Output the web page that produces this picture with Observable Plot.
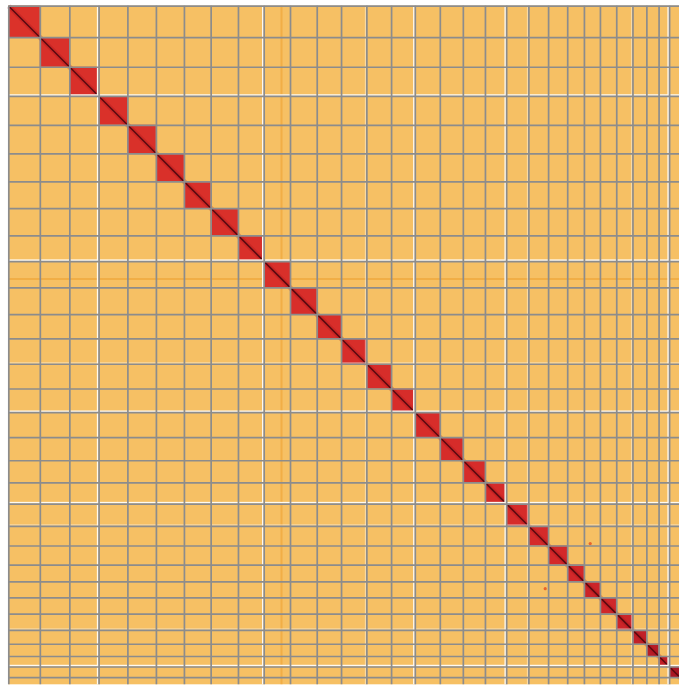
<!DOCTYPE html>
<html>
<head>
<meta charset="utf-8">
<script src="https://cdn.jsdelivr.net/npm/d3@7"></script>
<script src="https://cdn.jsdelivr.net/npm/@observablehq/plot@0.6"></script>
<style>
  html, body { margin: 0; padding: 0; background: #fff; overflow: hidden; }
  svg { overflow: hidden; display: block; }
</style>
</head>
<body>
<div id="chart"></div>
<script>
const chromosomeNames = ["1","2","3","4","5","6","7","8","9","10","11","12","13","14","15",
  "16","17","18","19","20","21","22","23","24","25","26","27","28","29","30","U"];
const chromosomeLengths = [31.5, 29.5, 29.2, 28.8, 28.5, 28.0, 26.7, 27.3, 25.7, 26.3,
  26.7, 24.3, 25.3, 24.7, 23.7, 25.0, 23.0, 22.1, 21.2, 22.2,
  19.7, 19.1, 16.7, 16.0, 16.3, 16.2, 13.9, 12.2, 10.5, 10.7, 7.1];
// Intra-chromosomal contact intensity (0 = light, 1 = dark) for each diagonal block
const blockIntensity = [0.30, 0.35, 0.35, 0.32, 0.33, 0.35, 0.35, 0.35, 0.35, 0.35,
  0.38, 0.38, 0.38, 0.40, 0.40, 0.40, 0.42, 0.42, 0.42, 0.42,
  0.45, 0.48, 0.50, 0.55, 0.52, 0.55, 0.62, 0.70, 0.60, 0.80, -1];
// Chromosomes whose ends carry an empty (white) band
const strongGaps = ["3","9","15","19","29"];
const faintGaps = ["13","20","26"];
// Bright inter-chromosomal stripe (Mb along the genome)
const stripePositions = [272.5];
// Isolated inter-chromosomal contact spots (Mb, Mb)
const spotX = [581, 536];
const spotY = [537, 582];

let acc = 0;
const chroms = chromosomeNames.map((name, i) => {
  const start = acc; acc += chromosomeLengths[i];
  return {name, start, end: acc, intensity: blockIntensity[i]};
});
const total = acc;
const boundaries = [0, ...chroms.slice(0, -1).map(d => d.end)];
const placed = chroms.filter(d => d.intensity >= 0);
const unplaced = chroms.filter(d => d.intensity < 0);
const gaps = chroms.filter(d => strongGaps.includes(d.name));
const fgaps = chroms.filter(d => faintGaps.includes(d.name));
const spots = spotX.map((x, i) => ({x, y: spotY[i]}));

const redScale = d3.scaleLinear().domain([0, 0.5, 1]).range(["#e6412b", "#d3282a", "#8e0c22"]);

const originX = 8.3, originY = 5.7, mapSize = 678.6;
const chart = Plot.plot({
  width: 679,
  height: 686,
  marginTop: 0, marginLeft: 0, marginRight: 0, marginBottom: 0,
  x: {domain: [0, total], range: [originX, originX + mapSize], axis: null},
  y: {domain: [0, total], range: [originY, originY + mapSize], axis: null},
  marks: [
    Plot.rect([{}], {x1: 0, x2: total, y1: 0, y2: total, fill: "#f6c064"}),
    Plot.ruleY(stripePositions, {x1: 0, x2: total, stroke: "#eea232", strokeWidth: 2, strokeOpacity: 0.6}),
    Plot.ruleX(stripePositions, {y1: 0, y2: total, stroke: "#eea232", strokeWidth: 2, strokeOpacity: 0.6}),
    Plot.rect(placed, {x1: "start", x2: "end", y1: "start", y2: "end", fill: d => redScale(d.intensity)}),
    Plot.rect(unplaced, {x1: "start", x2: "end", y1: "start", y2: "end", fill: "#f2ab3e"}),
    Plot.link(placed, {x1: "start", y1: "start", x2: "end", y2: "end", stroke: "#a8131c", strokeWidth: 5, strokeOpacity: 0.3}),
    Plot.link(placed, {x1: "start", y1: "start", x2: "end", y2: "end", stroke: "#5a0a10", strokeWidth: 1.6}),
    Plot.dot(spots, {x: "x", y: "y", r: 1.6, fill: "#e8642c", stroke: null}),
    Plot.rect(gaps, {x1: d => d.end - 1.7, x2: "end", y1: 0, y2: total, fill: "#fffaf0"}),
    Plot.rect(gaps, {y1: d => d.end - 1.7, y2: "end", x1: 0, x2: total, fill: "#fffaf0"}),
    Plot.rect(fgaps, {x1: d => d.end - 1.5, x2: "end", y1: 0, y2: total, fill: "#fffaf0", fillOpacity: 0.45}),
    Plot.rect(fgaps, {y1: d => d.end - 1.5, y2: "end", x1: 0, x2: total, fill: "#fffaf0", fillOpacity: 0.45}),
    Plot.ruleX(boundaries, {y1: 0, y2: total, stroke: "#8c8c8c", strokeWidth: 1.7}),
    Plot.ruleY(boundaries, {x1: 0, x2: total, stroke: "#8c8c8c", strokeWidth: 1.7})
  ]
});
document.getElementById("chart").appendChild(chart);
</script>
</body>
</html>
